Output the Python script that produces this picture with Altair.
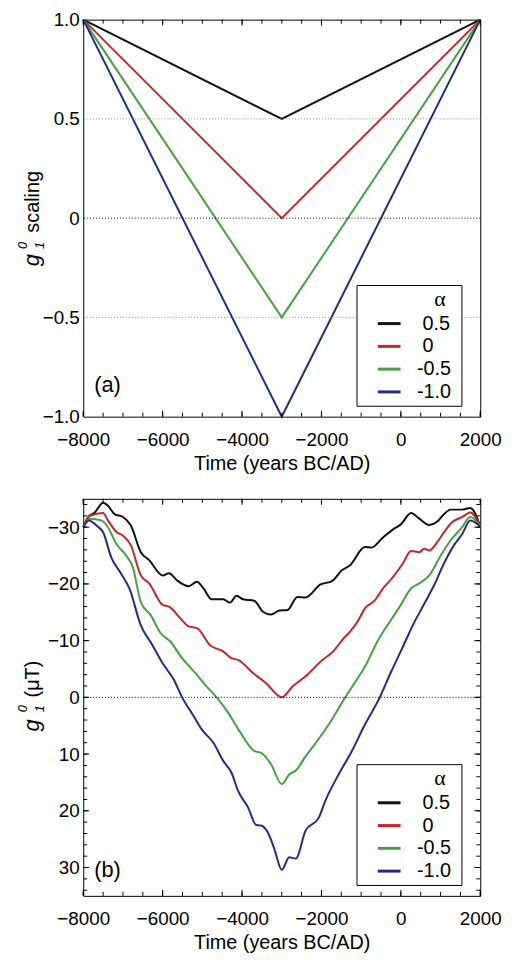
import altair as alt
import pandas as pd

FONT = "Liberation Sans"
NB = "\u00a0"
ZW = "\u200b"  # keeps the non-breaking spaces from being trimmed

# legend labels (alpha values) and colours
alpha_labels = [ZW + NB + "0.5" + NB + ZW, ZW + NB + "0" + NB + ZW,
                "-0.5" + NB + ZW, "-1.0" + NB + ZW]
colors = ["#111111", "#c1272d", "#4a9e44", "#262a85"]

# ---- panel (a): g1^0 scaling ----
a_time = [-8000, -3000, 2000]
a_black = [1.0, 0.5, 1.0]
a_red = [1.0, 0.0, 1.0]
a_green = [1.0, -0.5, 1.0]
a_blue = [1.0, -1.0, 1.0]

# ---- panel (b): g1^0 (uT) ----
b_black_t = [-8000, -7876, -7710, -7500, -7378, -7212, -7000, -6800, -6550, -6340, -6000, -5840, -5635,
             -5345, -5135, -4970, -4765, -4475, -4305, -4140, -3975, -3685, -3475, -3270, -3060, -2855,
             -2605, -2400, -2025, -1735, -1485, -1280, -905, -740, -450, -160, 0, 255, 465, 715, 920,
             1085, 1255, 1545, 1750, 2000]
b_black_v = [-30, -31.8, -32.6, -34.3, -33.8, -32.3, -31.8, -30.3, -25.6, -24.2, -21.5, -21.9, -20.6,
             -19.6, -20.4, -19.2, -17.3, -17.3, -16.7, -17.9, -17.3, -17.0, -15.1, -14.6, -15.3, -15.4,
             -17.7, -17.6, -19.9, -20.5, -22.4, -23.3, -26.5, -26.4, -28.2, -29.8, -30.5, -32.5, -31.5,
             -30.4, -31.0, -32.3, -33.1, -33.1, -33.4, -30.1]

b_red_t = [-8000, -7834, -7500, -7378, -7170, -7000, -6800, -6550, -6340, -6000, -5840, -5550, -5345,
           -5135, -4805, -4475, -4265, -4100, -3725, -3395, -3000, -2730, -2355, -2025, -1693, -1444,
           -1280, -1070, -905, -655, -450, -200, 50, 255, 465, 590, 715, 920, 1085, 1295, 1545, 1750, 2000]
b_red_v = [-30, -32, -32.5, -31.2, -29.2, -28.5, -26.8, -21.5, -20.1, -16.3, -16.0, -13.9, -12.5,
           -12.2, -9.2, -8.1, -6.9, -6.6, -4.3, -2.5, 0, -1.9, -4.0, -6.3, -8.2, -10.4,
           -11.6, -13.6, -15.7, -17.1, -19.2, -21.2, -23.6, -25.8, -25.6, -26.2, -25.9, -27.4, -29.1,
           -30.9, -31.8, -32.6, -30.1]

b_green_t = [-8000, -7834, -7544, -7378, -7170, -6921, -6755, -6550, -6300, -6050, -5800, -5510, -5180,
             -4890, -4640, -4350, -4060, -3685, -3520, -3270, -3000, -2813, -2647, -2400, -2108, -1817,
             -1402, -1112, -905, -572, -282, 0, 255, 465, 715, 1004, 1255, 1545, 1750, 2000]
b_green_v = [-30, -31.5, -31.2, -30, -27.1, -25, -23, -16.8, -14.5, -11.3, -9.8, -6.9, -4.3,
             -1.9, 0, 2.7, 6.0, 9.5, 9.8, 11.8, 15.3, 13.6, 12.9, 10.4, 7.7, 4.8,
             0, -3.1, -5.4, -10.1, -13.3, -16.3, -19.2, -20.1, -21.5, -25.0, -27.7, -30, -31.8, -30.1]

b_blue_t = [-8000, -7859, -7668, -7500, -7295, -7046, -6838, -6550, -6257, -6000, -5718, -5510, -5220,
            -5012, -4722, -4475, -4265, -4100, -3850, -3643, -3520, -3353, -3187, -3000, -2813, -2647,
            -2400, -2066, -1900, -1568, -1236, -905, -531, -240, 50, 300, 590, 840, 1085, 1336, 1545,
            1750, 2000]
b_blue_v = [-30, -31.2, -30.3, -29.1, -24.7, -21.8, -19.2, -12.7, -9.2, -6.0, -3.1, 0, 3.3,
            5.7, 8.0, 11.2, 13.3, 16.5, 19.4, 22.5, 22.6, 23.8, 26.7, 30.4, 28.2, 28.4,
            23.5, 21.2, 18.2, 13.6, 9.5, 4.8, 0, -4.6, -8.9, -12.7, -16.5, -19.8, -23.6, -26.8, -28.8,
            -31.2, -30.1]

x_label_values = [-8000, -6000, -4000, -2000, 0, 2000]
x_minor_ticks = list(range(-8000, 2001, 500))
a_y_values = [-1.0, -0.5, 0.0, 0.5, 1.0]
b_y_values = [-30, -20, -10, 0, 10, 20, 30]
b_y_minor = list(range(-34, 35, 2))
a_grid_gray = [0.5, -0.5]
a_grid_black = [0.0]
b_grid_black = [0.0]

W, H = 401, 401


def long_df(pairs):
    frames = []
    for (t, v), lab in zip(pairs, alpha_labels):
        frames.append(pd.DataFrame({"t": t, "v": v, "alpha": lab}))
    return pd.concat(frames, ignore_index=True)


df_a = long_df([(a_time, a_black), (a_time, a_red), (a_time, a_green), (a_time, a_blue)])
df_b = long_df([(b_black_t, b_black_v), (b_red_t, b_red_v), (b_green_t, b_green_v), (b_blue_t, b_blue_v)])

xs = alt.Scale(domain=[-8000, 2000], nice=False, zero=False)
ya = alt.Scale(domain=[-1, 1], nice=False, zero=False)
yb = alt.Scale(domain=[-35, 35], nice=False, zero=False, reverse=True)

x_axis = alt.Axis(values=x_label_values, format="d", ticks=False, domain=False, grid=False,
                  labelFont=FONT, labelFontSize=19, labelColor="black", labelPadding=14,
                  labelFlush=False, labelOverlap=False,
                  title="Time (years BC/AD)", titleFont=FONT, titleFontSize=20,
                  titleFontWeight="normal", titleColor="black", titlePadding=4)


def legend():
    return alt.Legend(title="α" + NB * 2 + ZW, orient="none", legendX=276, legendY=268,
                      direction="vertical",
                      padding=4, strokeColor="black", fillColor="white", cornerRadius=0,
                      symbolType="stroke", symbolSize=529, symbolStrokeWidth=3, symbolOffset=16,
                      labelOffset=15, labelFont=FONT, labelFontSize=20, labelColor="black",
                      titleFont="Liberation Serif", titleFontSize=22, titleFontWeight="normal",
                      titleColor="black", titleAnchor="end", titlePadding=0, rowPadding=0)


def lines(df, yscale, yaxis, interp):
    return alt.Chart(df).mark_line(strokeWidth=2, interpolate=interp).encode(
        x=alt.X("t:Q", scale=xs, axis=x_axis),
        y=alt.Y("v:Q", scale=yscale, axis=yaxis),
        color=alt.Color("alpha:N", scale=alt.Scale(domain=alpha_labels, range=colors),
                        sort=alpha_labels, legend=legend()),
    )


def grid(vals, yscale, color):
    return alt.Chart(pd.DataFrame({"v": vals})).mark_rule(
        color=color, strokeDash=[1, 2], strokeWidth=1).encode(
        y=alt.Y("v:Q", scale=yscale))


def xticks(vals, length):
    d = pd.DataFrame({"t": vals})
    top = alt.Chart(d).mark_rule(color="black", strokeWidth=1).encode(
        x=alt.X("t:Q", scale=xs), y=alt.value(0), y2=alt.value(length))
    bot = alt.Chart(d).mark_rule(color="black", strokeWidth=1).encode(
        x=alt.X("t:Q", scale=xs), y=alt.value(H), y2=alt.value(H - length))
    return [top, bot]


def yticks(vals, yscale, length):
    d = pd.DataFrame({"v": vals})
    left = alt.Chart(d).mark_rule(color="black", strokeWidth=1).encode(
        y=alt.Y("v:Q", scale=yscale), x=alt.value(0), x2=alt.value(length))
    right = alt.Chart(d).mark_rule(color="black", strokeWidth=1).encode(
        y=alt.Y("v:Q", scale=yscale), x=alt.value(W), x2=alt.value(W - length))
    return [left, right]


def txt(s, x, y, size, italic=False, angle=0, align="center", font=FONT):
    kw = dict(text=s, font=font, fontSize=size, color="black", align=align, baseline="alphabetic")
    if italic:
        kw["fontStyle"] = "italic"
    if angle:
        kw["angle"] = angle
    return alt.Chart(pd.DataFrame({"v": [0]})).mark_text(**kw).encode(x=alt.value(x), y=alt.value(y))


# ---- top chart ----
ya_axis = alt.Axis(values=a_y_values, ticks=False, domain=False, grid=False,
                   labelExpr="datum.value == 0 ? '0' : format(datum.value, '.1f')",
                   labelFont=FONT, labelFontSize=19, labelColor="black", labelPadding=4, title=None)

top = alt.layer(
    lines(df_a, ya, ya_axis, "linear"),
    grid(a_grid_gray, ya, "#8c8c8c"),
    grid(a_grid_black, ya, "black"),
    *xticks(x_minor_ticks, 4),
    *xticks(x_label_values, 6),
    txt("scaling", -45, 184, 20, angle=270),
    txt("g", -45, 243, 22, italic=True, angle=270),
    txt("0", -57, 228, 13, italic=True, angle=270),
    txt("1", -40, 228, 13, italic=True, angle=270),
    txt("(a)", 11, 376, 22, align="left"),
).properties(width=W, height=H)

# ---- bottom chart ----
yb_axis = alt.Axis(values=b_y_values, format="d", ticks=False, domain=False, grid=False,
                   labelFont=FONT, labelFontSize=19, labelColor="black", labelPadding=4, title=None)

bottom = alt.layer(
    lines(df_b, yb, yb_axis, "monotone"),
    grid(b_grid_black, yb, "black"),
    *xticks(x_minor_ticks, 4),
    *xticks(x_label_values, 6),
    *yticks(b_y_minor, yb, 4),
    *yticks(b_y_values, yb, 6),
    txt("(μT)", -45, 182, 20, angle=270),
    txt("g", -45, 229, 22, italic=True, angle=270),
    txt("0", -57, 212, 13, italic=True, angle=270),
    txt("1", -40, 212, 13, italic=True, angle=270),
    txt("(b)", 11, 382, 22, align="left"),
).properties(width=W, height=H)

chart = alt.vconcat(top, bottom, spacing=24).resolve_scale(
    x="independent", y="independent", color="independent"
).resolve_legend(color="independent").properties(
    padding={"left": 8, "top": -3, "right": 5, "bottom": 0}, background="white"
).configure_view(stroke="black", strokeWidth=1)

chart.save("out.html", embed_options={"renderer": "svg", "actions": False})
